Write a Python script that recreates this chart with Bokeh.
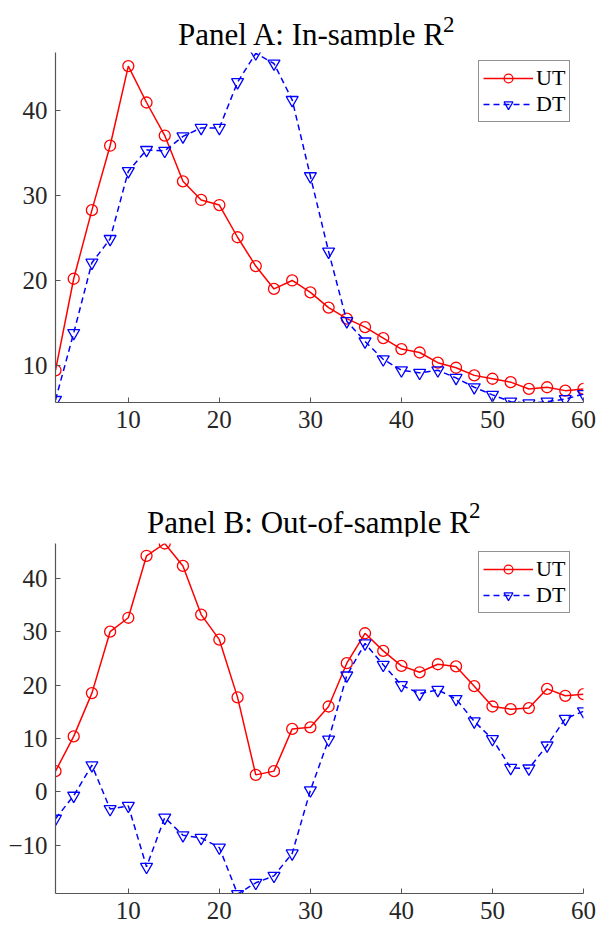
from bokeh.plotting import figure
from bokeh.models import Range1d, FixedTicker, Legend, LegendItem, Div
from bokeh.layouts import column
from bokeh.embed import file_html
from bokeh.resources import INLINE

# ---- data ----
horizons = list(range(2, 61, 2))

ut_in = [9.4, 20.2, 28.3, 35.9, 45.3, 41.0, 37.1, 31.7, 29.5, 28.9,
         25.1, 21.7, 19.0, 20.0, 18.6, 16.8, 15.5, 14.5, 13.2, 11.9,
         11.5, 10.3, 9.7, 8.8, 8.4, 8.0, 7.2, 7.4, 7.0, 7.2]
dt_in = [5.9, 13.8, 22.1, 24.9, 32.9, 35.4, 35.3, 37.0, 38.0, 38.0,
         43.4, 46.8, 45.6, 41.3, 32.3, 23.4, 15.2, 12.8, 10.7, 9.4,
         9.1, 9.4, 8.5, 7.4, 6.5, 5.7, 5.5, 5.7, 6.0, 6.6]

ut_out = [3.9, 10.4, 18.5, 30.0, 32.6, 44.2, 46.5, 42.3, 33.2, 28.5,
          17.7, 3.2, 3.9, 11.8, 12.1, 16.0, 24.1, 29.7, 26.4, 23.6,
          22.4, 23.9, 23.5, 19.8, 16.0, 15.5, 15.7, 19.3, 18.0, 18.3]
dt_out = [-5.0, -0.7, 5.0, -3.2, -2.6, -14.0, -4.8, -8.1, -8.6, -10.4,
          -19.1, -17.0, -15.7, -11.5, 0.3, 9.8, 21.8, 27.8, 23.8, 20.0,
          18.4, 19.1, 17.4, 13.2, 9.9, 4.5, 4.4, 8.7, 13.7, 15.1]

series_labels = ["UT", "DT"]
titles = ["Panel A: In-sample R", "Panel B: Out-of-sample R"]
title_sup = "2"
x_ticks = [10, 20, 30, 40, 50, 60]
y_ticks_a = [10, 20, 30, 40]
y_ticks_b = [-10, 0, 10, 20, 30, 40]

FONT = "Liberation Serif"
AX = "#555555"
TXT = "#262626"


def make_title(title, height, pad_top, pad_left, sup_raise):
    html = (
        f'<div style="font-family:\'{FONT}\'; font-size:31px; line-height:31px; '
        f'color:#000000; white-space:nowrap; margin:0; '
        f'padding-top:{pad_top}px; padding-left:{pad_left}px;">'
        f'{title}<span style="font-size:23px; position:relative; '
        f'top:-{sup_raise}px; margin-left:-1px;">{title_sup}</span></div>'
    )
    return Div(text=html, width=599, height=height, margin=(0, 0, 0, 0))


def make_panel(ut, dt, ylim, yticks, top, bottom):
    p = figure(frame_width=528, frame_height=350,
               x_range=Range1d(2, 60), y_range=Range1d(*ylim),
               output_backend="svg", toolbar_location=None,
               min_border_left=55, min_border_right=16,
               min_border_top=top, min_border_bottom=bottom)
    p.xgrid.visible = False
    p.ygrid.visible = False
    p.outline_line_color = None
    p.background_fill_color = "white"
    p.border_fill_color = "white"

    for ax in (p.xaxis[0], p.yaxis[0]):
        ax.axis_line_color = AX
        ax.axis_line_width = 1.2
        ax.major_tick_line_color = AX
        ax.major_tick_in = 5
        ax.major_tick_out = 0
        ax.minor_tick_line_color = None
        ax.major_label_text_font = FONT
        ax.major_label_text_font_size = "25px"
        ax.major_label_text_color = TXT
    p.xaxis[0].ticker = FixedTicker(ticks=x_ticks)
    p.yaxis[0].ticker = FixedTicker(ticks=yticks)
    p.xaxis[0].major_label_standoff = 8
    p.yaxis[0].major_label_standoff = 8

    l1 = p.line(horizons, ut, line_color="#ff0000", line_width=1.5)
    s1 = p.scatter(horizons, ut, marker="circle", size=11, fill_color=None,
                   line_color="#ff0000", line_width=1.3)
    l2 = p.line(horizons, dt, line_color="#0000ff", line_width=1.5,
                line_dash="6 4")
    s2 = p.scatter(horizons, dt, marker="inverted_triangle", size=12,
                   fill_color=None, line_color="#0000ff", line_width=1.3)

    legend = Legend(items=[LegendItem(label=series_labels[0], renderers=[l1, s1]),
                           LegendItem(label=series_labels[1], renderers=[l2, s2])],
                    location=(423, 280))
    legend.label_text_font = FONT
    legend.label_text_font_size = "22px"
    legend.label_text_color = "#000000"
    legend.border_line_color = "#262626"
    legend.border_line_width = 1
    legend.background_fill_color = "white"
    legend.background_fill_alpha = 1
    legend.glyph_width = 50
    legend.glyph_height = 22
    legend.label_standoff = 3
    legend.label_height = 22
    legend.padding = 4
    legend.spacing = 0
    legend.margin = 0
    p.add_layout(legend)
    return p


ta = make_title(titles[0], 46, 19, 178, 13)
pa = make_panel(ut_in, dt_in, (5.6, 46.9), y_ticks_a, 6, 38)
tb = make_title(titles[1], 96, 67, 147, 15)
pb = make_panel(ut_out, dt_out, (-19.0, 46.5), y_ticks_b, 7, 39)

layout = column(ta, pa, tb, pb, spacing=0)
open("out.html", "w").write(file_html(layout, INLINE))
